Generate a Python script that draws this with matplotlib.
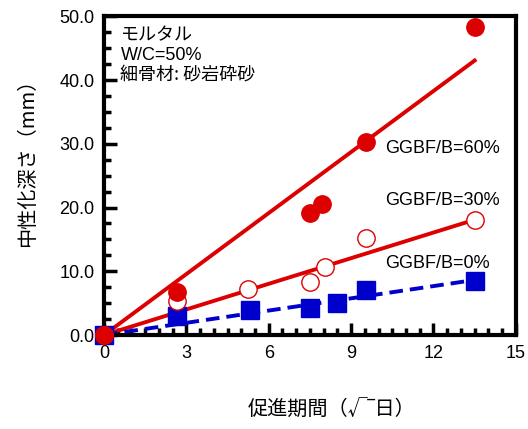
import numpy as np
import matplotlib.pyplot as plt
from matplotlib.ticker import MultipleLocator, FormatStrFormatter

plt.rcParams['font.family'] = ['Liberation Sans', 'Noto Sans CJK JP']
jp = ['Noto Sans CJK JP', 'Liberation Sans']

# carbonation depth vs sqrt(days)
x60 = [0, 2.65, 7.5, 7.95, 9.55, 13.5]
y60 = [0, 6.8, 19.2, 20.6, 30.3, 48.4]
x30 = [0, 2.65, 5.25, 7.5, 8.05, 9.55, 13.5]
y30 = [0, 5.3, 7.2, 8.3, 10.7, 15.3, 18.1]
x0 = [0, 2.65, 5.3, 7.5, 8.5, 9.55, 13.5]
y0 = [0, 3.0, 3.9, 4.2, 5.1, 7.0, 8.4]

# fitted slopes (mm per sqrt(day))
k60 = 3.19
k30 = 1.34
k0 = 0.64

fig = plt.figure(figsize=(5.28, 4.29), dpi=100)
ax = fig.add_axes([0.197, 0.219, 0.780, 0.743])

xl = np.array([0, 13.5])
ax.plot(xl, k60 * xl, color='#dd0000', lw=2.8, zorder=2)
ax.plot(xl, k30 * xl, color='#dd0000', lw=2.8, zorder=2)
ax.plot(xl, k0 * xl, color='#0000cc', lw=2.8, ls=(0, (3.5, 1.8)), zorder=2)

ax.plot(x0, y0, 's', color='#0000cc', ms=12.5, clip_on=False, zorder=3)
ax.plot(x30, y30, 'o', mfc='white', mec='#dd0000', mew=1, ms=12.5, clip_on=False, zorder=3)
ax.plot(x60, y60, 'o', color='#dd0000', ms=12.5, clip_on=False, zorder=4)

ax.set_xlim(0, 15)
ax.set_ylim(0, 50)
ax.xaxis.set_major_locator(MultipleLocator(3))
ax.xaxis.set_minor_locator(MultipleLocator(0.5))
ax.yaxis.set_major_locator(MultipleLocator(10))
ax.yaxis.set_minor_locator(MultipleLocator(2.5))
ax.yaxis.set_major_formatter(FormatStrFormatter('%.1f'))
ax.tick_params(which='both', direction='in', width=2.5, labelsize=13,
               top=False, right=False)
ax.tick_params(which='major', length=9, pad=7)
ax.tick_params(which='minor', length=5)
for s in ax.spines.values():
    s.set_linewidth(3)

ax.set_xlabel('促進期間（√‾日）', fontsize=14.5, family=jp)
ax.xaxis.set_label_coords(0.553, -0.2)
ax.set_ylabel('中性化深さ（mm）', fontsize=14.5, family=jp)
ax.yaxis.set_label_coords(-0.16, 0.555)

ax.text(0.6, 47.0, 'モルタル', fontsize=13, va='center', family=jp)
ax.text(0.6, 43.9, 'W/C=50%', fontsize=13, va='center')
ax.text(0.6, 40.8, '細骨材: 砂岩砕砂', fontsize=13, va='center', family=jp)

ax.text(10.25, 29.2, 'GGBF/B=60%', fontsize=13, va='center')
ax.text(10.25, 21.1, 'GGBF/B=30%', fontsize=13, va='center')
ax.text(10.25, 11.3, 'GGBF/B=0%', fontsize=13, va='center')

fig.savefig('out.png', dpi=100)
